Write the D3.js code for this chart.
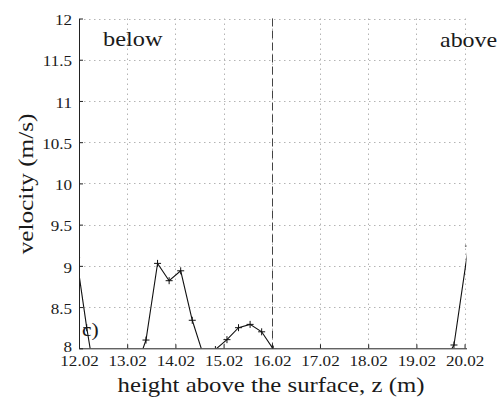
<!DOCTYPE html>
<html><head><meta charset="utf-8">
<script src="https://cdn.jsdelivr.net/npm/d3@7"></script>
<style>body{margin:0;background:#fff}svg{display:block}</style>
</head><body><div id="chart"></div>
<script>
// data
const heights = [11.97,12.18,12.42,12.69,12.93,13.17,13.41,13.65,13.89,14.13,14.37,14.61,14.85,15.09,15.33,15.57,15.81,16.05,16.29,16.53,16.77,17.01,17.25,17.49,17.73,17.97,18.21,18.45,18.69,18.93,19.17,19.41,19.56,19.80,20.10];
const velocity = [9.10,8.25,7.4,7.2,7.1,7.7,8.10,9.03,8.82,8.94,8.34,7.90,7.985,8.105,8.25,8.29,8.20,7.99,7.7,7.4,7.2,7.1,7.0,7.0,7.1,7.2,7.3,7.3,7.4,7.5,7.6,7.7,7.8,8.04,9.24];
const xTicks = [12.02,13.02,14.02,15.02,16.02,17.02,18.02,19.02,20.02];
const yTicks = [8,8.5,9,9.5,10,10.5,11,11.5,12];
const divider = 16.02;
const labels = {x:"height above the surface, z (m)", y:"velocity (m/s)", left:"below", right:"above", panel:"c)"};

const FONT='"Liberation Serif"';
const W=502,H=403;
const svg=d3.select("#chart").append("svg").attr("width",W).attr("height",H);
svg.append("rect").attr("width",W).attr("height",H).attr("fill","#fff");
const x=d3.scaleLinear().domain([12.02,20.06]).range([79,466.5]);
const y=d3.scaleLinear().domain([8,12]).range([348.3,18.5]);

function stretch(sel,f){sel.each(function(){const l=this.getComputedTextLength();d3.select(this).attr("textLength",l*f).attr("lengthAdjust","spacingAndGlyphs");});}
function font(sel,size){return sel.style("font-family",FONT).style("font-size",size+"px").attr("fill","#1a1a1a");}

// grid
const grid=svg.append("g").attr("stroke","#b4b4b4").attr("stroke-width",1).attr("stroke-dasharray","1.5,3.5");
grid.selectAll("line.h").data(yTicks.filter(d=>d>8)).join("line")
 .attr("x1",x(12.02)).attr("x2",x(20.02)).attr("y1",d=>Math.round(y(d))+0.5).attr("y2",d=>Math.round(y(d))+0.5);
grid.selectAll("line.v").data(xTicks.filter(d=>d>12.02)).join("line")
 .attr("x1",d=>Math.round(x(d))+0.5).attr("x2",d=>Math.round(x(d))+0.5).attr("y1",y(12)).attr("y2",y(8));

// divider
svg.append("line").attr("x1",Math.round(x(divider))+0.5).attr("x2",Math.round(x(divider))+0.5)
 .attr("y1",y(12)).attr("y2",y(8)).attr("stroke","#444").attr("stroke-width",1).attr("stroke-dasharray","8,4");

// data line clipped
svg.append("clipPath").attr("id","clip").append("rect").attr("x",x(12.02)).attr("y",y(12)).attr("width",x(20.06)-x(12.02)).attr("height",y(8)-y(12));
const g=svg.append("g").attr("clip-path","url(#clip)");
const pts=heights.map((h,i)=>[h,velocity[i]]);
g.append("path").attr("d",d3.line().x(d=>x(d[0])).y(d=>y(d[1]))(pts)).attr("fill","none").attr("stroke","#111").attr("stroke-width",1.1);
g.selectAll("path.m").data(pts).join("path").attr("d",d=>{const px=x(d[0]),py=y(d[1]),s=3.5;return `M${px-s},${py}H${px+s}M${px},${py-s}V${py+s}`;}).attr("stroke","#111").attr("stroke-width",1);

// axes
const ax=svg.append("g").attr("transform",`translate(0,${y(8)})`).call(d3.axisBottom(x).tickValues(xTicks).tickFormat(d3.format(".2f")).tickSizeInner(-4).tickSizeOuter(0).tickPadding(8));
ax.select(".domain").attr("stroke","#222");
ax.selectAll(".tick line").attr("stroke","#222");
font(ax.selectAll("text"),15.5).attr("dy","0.6em");
const ay=svg.append("g").attr("transform",`translate(${x(12.02)},0)`).call(d3.axisLeft(y).tickValues(yTicks).tickFormat(d=>d).tickSizeInner(-4).tickSizeOuter(0).tickPadding(7));
ay.select(".domain").attr("stroke","#222");
ay.selectAll(".tick line").attr("stroke","#222");
font(ay.selectAll("text"),15.5).attr("dy","0.4em");
ay.selectAll("text").filter(d=>d===8).attr("dy","0.22em");
stretch(ax.selectAll("text"),1.1);
stretch(ay.selectAll("text"),1.1);

// labels
const xl=font(svg.append("text"),21).attr("x",271).attr("y",392).attr("text-anchor","middle").text(labels.x);
stretch(xl,1.18);
const yl=font(svg.append("text"),21).attr("transform","translate(33,184) rotate(-90)").attr("text-anchor","middle").text(labels.y);
stretch(yl,1.2);
const lb=font(svg.append("text"),21).attr("x",103).attr("y",46).text(labels.left);
stretch(lb,1.16);
const ab=font(svg.append("text"),21).attr("x",440).attr("y",46.5).text(labels.right);
stretch(ab,1.14);
const pc=font(svg.append("text"),18).attr("x",82).attr("y",336).text(labels.panel);
stretch(pc,1.2);
</script></body></html>
